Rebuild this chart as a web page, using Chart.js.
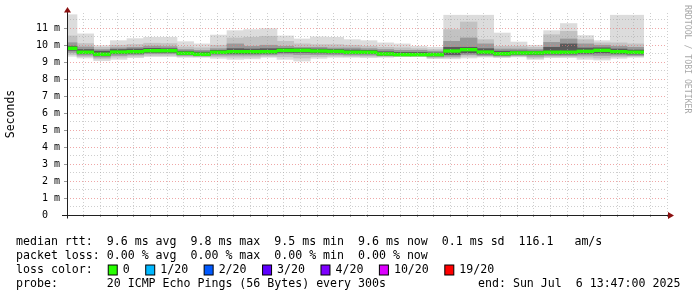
<!DOCTYPE html>
<html><head><meta charset="utf-8">
<script src="https://cdn.jsdelivr.net/npm/chart.js@4/dist/chart.umd.min.js"></script>
<style>html,body{margin:0;padding:0;background:#fff;}canvas{display:block;}</style>
</head><body>
<canvas id="c" width="697" height="297"></canvas>
<script>
// interval end times (5-minute steps)
const intervalEnd = ['10:50','10:55','11:00','11:05','11:10','11:15','11:20','11:25','11:30','11:35',
  '11:40','11:45','11:50','11:55','12:00','12:05','12:10','12:15','12:20','12:25',
  '12:30','12:35','12:40','12:45','12:50','12:55','13:00','13:05','13:10','13:15',
  '13:20','13:25','13:30','13:35','13:40'];
// RTT values in ms
const maxRtt = [11.80,10.67,9.98,10.27,10.39,10.47,10.47,10.21,10.08,10.60,10.86,10.92,10.98,10.55,10.37,10.49,10.47,10.33,10.27,10.14,10.08,9.94,9.88,11.77,11.77,11.77,10.72,10.19,10.00,10.86,11.28,10.57,10.27,11.77,11.77];
const upper2 = [10.55,10.10,9.88,10.00,10.05,10.12,10.10,9.90,9.85,10.00,10.43,10.47,10.53,10.23,10.08,10.04,10.04,10.00,9.94,9.88,9.85,9.80,9.75,10.92,11.37,10.33,9.94,9.94,9.88,10.62,10.82,10.33,10.14,10.14,10.08];
const upper3 = [10.15,9.90,9.75,9.85,9.88,9.95,9.92,9.75,9.70,9.80,10.08,9.94,10.00,9.94,9.88,9.88,9.84,9.84,9.80,9.75,9.70,9.70,9.65,10.23,10.43,10.08,9.78,9.78,9.75,10.17,10.37,10.08,10.00,9.94,9.88];
const upper4 = [9.95,9.75,9.65,9.75,9.78,9.82,9.80,9.65,9.60,9.70,9.80,9.78,9.80,9.82,9.80,9.78,9.75,9.72,9.70,9.62,9.58,9.58,9.55,9.88,9.88,9.80,9.65,9.66,9.65,9.88,10.08,9.84,9.85,9.78,9.72];
const medianRtt = [9.82,9.59,9.47,9.60,9.62,9.68,9.68,9.53,9.47,9.59,9.62,9.62,9.62,9.70,9.70,9.66,9.64,9.59,9.59,9.49,9.45,9.45,9.45,9.66,9.74,9.60,9.50,9.55,9.55,9.59,9.59,9.64,9.70,9.62,9.59];
const lower4 = [9.70,9.50,9.38,9.50,9.52,9.58,9.58,9.45,9.41,9.50,9.50,9.50,9.52,9.58,9.58,9.55,9.54,9.50,9.50,9.42,9.40,9.40,9.38,9.45,9.55,9.48,9.42,9.47,9.45,9.48,9.48,9.52,9.55,9.50,9.48];
const lower3 = [9.58,9.42,9.30,9.40,9.44,9.50,9.50,9.40,9.37,9.42,9.42,9.42,9.44,9.48,9.45,9.45,9.45,9.43,9.42,9.38,9.37,9.37,9.32,9.35,9.45,9.40,9.36,9.40,9.35,9.40,9.40,9.42,9.40,9.42,9.40];
const lower2 = [9.45,9.33,9.20,9.30,9.35,9.40,9.40,9.34,9.33,9.32,9.30,9.30,9.35,9.32,9.25,9.33,9.36,9.35,9.34,9.33,9.35,9.35,9.26,9.28,9.35,9.35,9.32,9.35,9.25,9.32,9.33,9.30,9.25,9.32,9.35];
const minRtt = [9.35,9.25,9.09,9.17,9.27,9.33,9.33,9.29,9.29,9.23,9.17,9.20,9.29,9.17,9.07,9.23,9.29,9.29,9.27,9.29,9.33,9.33,9.21,9.20,9.25,9.30,9.27,9.31,9.17,9.27,9.27,9.17,9.13,9.23,9.29];
// y tick values (ms)
const yTickValues = [0,1,2,3,4,5,6,7,8,9,10,11];
// loss legend
const lossLabels = ['0','1/20','2/20','3/20','4/20','10/20','19/20'];
const lossColors = ['#26ff00','#00b8ff','#0059ff','#5e00ff','#7e00ff','#dd00ff','#ff0000'];
const statLines = [
  'median rtt:  9.6 ms avg  9.8 ms max  9.5 ms min  9.6 ms now  0.1 ms sd  116.1   am/s',
  'packet loss: 0.00 % avg  0.00 % max  0.00 % min  0.00 % now'
];
const probeLine = 'probe:       20 ICMP Echo Pings (56 Bytes) every 300s';
const endLine = 'end: Sun Jul  6 13:47:00 2025';
const xMinTime = '10:47', xMaxTime = '13:47';

const toMin = s => { const [h, m] = s.split(':').map(Number); return h * 60 + m; };
const fmt = v => String(Math.floor(v / 60)).padStart(2, '0') + ':' + String(v % 60).padStart(2, '0');
const centers = intervalEnd.map(s => toMin(s) - 2.5);
const band = (lo, hi) => centers.map((x, i) => ({x, y: [lo[i], hi[i]]}));
const MED_HALF = 0.08;
const medBand = centers.map((x, i) => ({x, y: [medianRtt[i] - MED_HALF, medianRtt[i] + MED_HALF]}));

const MONO = '"DejaVu Sans Mono", "Liberation Mono", monospace';
const MAJOR = 'rgba(230,120,120,0.65)';
const MINOR = 'rgba(165,165,165,0.55)';

const barDefaults = {barPercentage: 1, categoryPercentage: 1, grouped: false, borderWidth: 0};
const layers = [
  {data: band(minRtt, maxRtt), backgroundColor: '#dcdcdc', order: 10},
  {data: band(lower2, upper2), backgroundColor: '#c2c2c2', order: 9},
  {data: band(lower3, upper3), backgroundColor: '#999999', order: 8},
  {data: band(lower4, upper4), backgroundColor: '#5a5a5a', order: 7},
  {data: medBand, backgroundColor: '#26ff00', order: 1}
].map(d => Object.assign({}, barDefaults, d));

const decor = {
  id: 'decor',
  afterDraw(chart) {
    const ctx = chart.ctx, a = chart.chartArea;
    const y0 = Math.round(chart.scales.y.getPixelForValue(0)) + 0.5;
    const xl = Math.round(a.left) + 0.5;
    ctx.save();
    // axes
    ctx.strokeStyle = '#202020'; ctx.lineWidth = 1;
    ctx.beginPath(); ctx.moveTo(a.left - 5, y0); ctx.lineTo(a.right + 2, y0); ctx.stroke();
    ctx.beginPath(); ctx.moveTo(xl, y0 + 3); ctx.lineTo(xl, a.top - 2); ctx.stroke();
    ctx.fillStyle = '#8b1010';
    ctx.beginPath(); ctx.moveTo(xl - 3.5, a.top - 0.5); ctx.lineTo(xl + 3.5, a.top - 0.5); ctx.lineTo(xl, a.top - 6); ctx.closePath(); ctx.fill();
    ctx.beginPath(); ctx.moveTo(a.right + 1, y0 - 3.5); ctx.lineTo(a.right + 1, y0 + 3.5); ctx.lineTo(a.right + 7, y0); ctx.closePath(); ctx.fill();
    // y title
    ctx.fillStyle = '#000';
    ctx.font = '11.5px ' + MONO;
    ctx.textAlign = 'center'; ctx.textBaseline = 'middle';
    ctx.save(); ctx.translate(11, 114); ctx.rotate(-Math.PI / 2); ctx.fillText('Seconds', 0, 0); ctx.restore();
    // watermark
    ctx.save(); ctx.fillStyle = '#a8a8a8'; ctx.font = '8.2px ' + MONO; ctx.textAlign = 'left';
    ctx.translate(687, 5); ctx.rotate(Math.PI / 2); ctx.fillText('RRDTOOL / TOBI OETIKER', 0, 0); ctx.restore();
    // legend lines
    ctx.font = '11.6px ' + MONO; ctx.textAlign = 'left'; ctx.textBaseline = 'middle'; ctx.fillStyle = '#000';
    const lx = 16, rows = [241.5, 255.5, 269.5, 284];
    ctx.fillText(statLines[0], lx, rows[0]);
    ctx.fillText(statLines[1], lx, rows[1]);
    ctx.fillText('loss color:', lx, rows[2]);
    let bx = lx + ctx.measureText('loss color:  ').width + 1;
    lossLabels.forEach((lab, i) => {
      ctx.fillStyle = lossColors[i];
      ctx.fillRect(bx + 0.5, rows[2] - 4.5, 9, 10);
      ctx.strokeStyle = '#000'; ctx.lineWidth = 1;
      ctx.strokeRect(bx + 0.5, rows[2] - 4.5, 9, 10);
      ctx.fillStyle = '#000';
      ctx.fillText(lab, bx + 15, rows[2]);
      bx = bx + 15 + ctx.measureText(lab).width + 15.5;
    });
    ctx.fillText(probeLine, lx, rows[3]);
    ctx.fillText(endLine, 478, rows[3]);
    ctx.restore();
  }
};

new Chart(document.getElementById('c'), {
  type: 'bar',
  data: {datasets: layers},
  options: {
    responsive: false, animation: false,
    layout: {padding: {top: 13, right: 30, left: 0, bottom: 0}},
    plugins: {legend: {display: false}, tooltip: {enabled: false}},
    scales: {
      x: {
        type: 'linear', offset: false, min: toMin(xMinTime), max: toMin(xMaxTime),
        afterFit(s) { s.height = 82; },
        ticks: {stepSize: 5, includeBounds: false, autoSkip: false, maxRotation: 0, padding: 1,
          font: {family: MONO, size: 10}, color: '#000',
          callback: v => (v % 20 === 0 ? fmt(v) : '')},
        grid: {z: 1, offset: false, drawTicks: true, tickLength: 2, tickColor: '#999',
          color: c => (c.tick && c.tick.value % 20 === 0 ? MAJOR : MINOR)},
        border: {display: false, dash: [1, 2]}
      },
      y: {
        min: 0, max: 11.9,
        afterFit(s) { s.width = 67; },
        afterBuildTicks(s) { s.ticks = yTickValues.flatMap(v => v < 11.9 - 0.5 ? [{value: v}, {value: v + 0.5}] : [{value: v}]); },
        ticks: {autoSkip: false, padding: 4, font: {family: MONO, size: 10}, color: '#000',
          callback: v => (v % 1 !== 0 ? '' : (v === 0 ? '0  ' : v + ' m'))},
        grid: {z: 1, drawTicks: true, tickLength: 3,
          tickColor: c => (c.tick && c.tick.value % 1 === 0 ? '#999' : 'rgba(0,0,0,0)'),
          color: c => (c.tick && c.tick.value % 1 === 0 ? MAJOR : MINOR)},
        border: {display: false, dash: [1, 2]}
      }
    }
  },
  plugins: [decor]
});
</script>
</body></html>
